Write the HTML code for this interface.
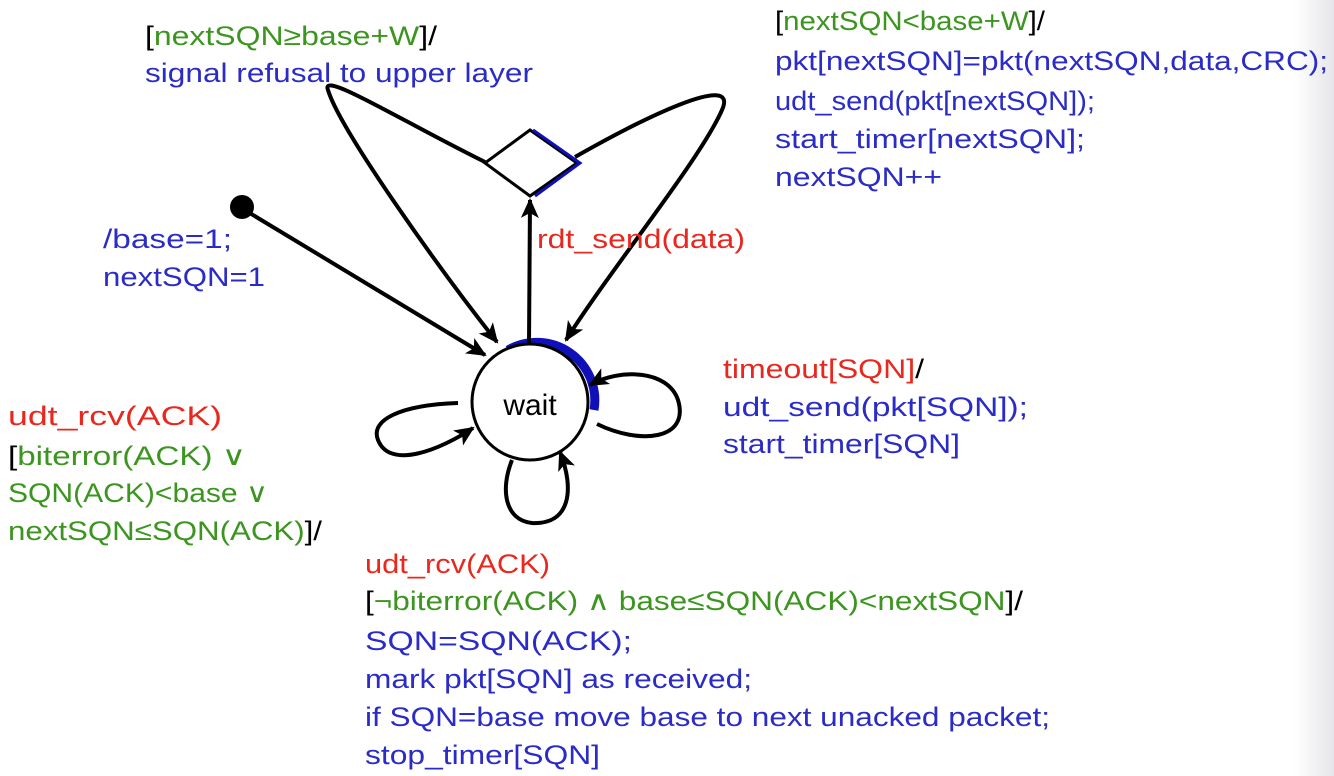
<!DOCTYPE html>
<html><head><meta charset="utf-8"><style>
html,body{margin:0;padding:0;background:#fff}
body{width:1334px;height:776px;overflow:hidden;position:relative}
.edge{position:absolute;right:0;top:0;width:40px;height:776px;background:linear-gradient(to right,rgba(235,235,240,0),#e6e6ea)}
svg{position:absolute;left:0;top:0}
text{font-family:"Liberation Sans",sans-serif;font-size:27px}
.r{fill:#e8281e}.g{fill:#3b951f}.b{fill:#2b2bc6}.k{fill:#000}
</style></head><body><div class="edge"></div>
<svg width="1334" height="776" viewBox="0 0 1334 776">
<defs>
<marker id="h" markerWidth="22" markerHeight="22" refX="18" refY="11" orient="auto" markerUnits="userSpaceOnUse"><path d="M0,2 L20,11 L0,20 L5,11 Z" fill="#000"/></marker></defs>
<g fill="none" stroke="#000" stroke-width="4">
<path d="M508,350 A58,58 0 0 1 594,410" stroke="#1010b8" stroke-width="9"/>
<circle cx="530" cy="402" r="58" fill="#fff" stroke-width="3"/>
<path d="M530,130 L485,163 L530,196 L577,163 Z" fill="#fff" stroke-width="3"/>
<path d="M533,130 L580,163 L535,196" stroke="#1010b8" stroke-width="3"/>
<path d="M529,344 L530,200" marker-end="url(#h)"/>
<path d="M248,212 L485,355" marker-end="url(#h)"/>
<path d="M485,162 C400,120 320,70 328,90 C340,130 440,270 497,342" marker-end="url(#h)"/>
<path d="M575,157 C640,120 740,70 722,110 C700,160 610,270 566,340" marker-end="url(#h)"/>
<path d="M597,424 C640,445 690,440 678,400 C668,370 620,368 590,385" marker-end="url(#h)"/>
<path d="M458,403 C400,405 370,420 378,440 C390,470 440,450 473,428" marker-end="url(#h)"/>
<path d="M512,460 C500,490 505,520 532,523 C570,525 575,490 560,452" marker-end="url(#h)"/>
</g>
<circle cx="242" cy="207" r="12" fill="#000"/>
<text x="530" y="415" text-anchor="middle" class="k" style="font-size:30px">wait</text>

<text x="145" y="45" textLength="292" lengthAdjust="spacingAndGlyphs"><tspan class="k">[</tspan><tspan class="g">nextSQN≥base+W</tspan><tspan class="k">]/</tspan></text>
<text x="145" y="82" textLength="388" lengthAdjust="spacingAndGlyphs" class="b">signal refusal to upper layer</text>

<text x="775" y="30" textLength="270" lengthAdjust="spacingAndGlyphs"><tspan class="k">[</tspan><tspan class="g">nextSQN&lt;base+W</tspan><tspan class="k">]/</tspan></text>
<text x="775" y="70" textLength="553" lengthAdjust="spacingAndGlyphs" class="b">pkt[nextSQN]=pkt(nextSQN,data,CRC);</text>
<text x="775" y="110" textLength="320" lengthAdjust="spacingAndGlyphs" class="b">udt_send(pkt[nextSQN]);</text>
<text x="775" y="148" textLength="310" lengthAdjust="spacingAndGlyphs" class="b">start_timer[nextSQN];</text>
<text x="775" y="186" textLength="167" lengthAdjust="spacingAndGlyphs" class="b">nextSQN++</text>

<text x="103" y="248" textLength="129" lengthAdjust="spacingAndGlyphs" class="b">/base=1;</text>
<text x="103" y="286" textLength="162" lengthAdjust="spacingAndGlyphs" class="b">nextSQN=1</text>
<text x="537" y="248" textLength="208" lengthAdjust="spacingAndGlyphs" class="r">rdt_send(data)</text>

<text x="723" y="378" textLength="201" lengthAdjust="spacingAndGlyphs"><tspan class="r">timeout[SQN]</tspan><tspan class="k">/</tspan></text>
<text x="723" y="416" textLength="305" lengthAdjust="spacingAndGlyphs" class="b">udt_send(pkt[SQN]);</text>
<text x="723" y="453" textLength="237" lengthAdjust="spacingAndGlyphs" class="b">start_timer[SQN]</text>

<text x="8" y="425" textLength="214" lengthAdjust="spacingAndGlyphs" class="r">udt_rcv(ACK)</text>
<text x="8" y="465" textLength="238" lengthAdjust="spacingAndGlyphs"><tspan class="k">[</tspan><tspan class="g">biterror(ACK) ∨</tspan></text>
<text x="8" y="502" textLength="260" lengthAdjust="spacingAndGlyphs" class="g">SQN(ACK)&lt;base ∨</text>
<text x="8" y="540" textLength="314" lengthAdjust="spacingAndGlyphs"><tspan class="g">nextSQN≤SQN(ACK)</tspan><tspan class="k">]/</tspan></text>

<text x="365" y="573" textLength="185" lengthAdjust="spacingAndGlyphs" class="r">udt_rcv(ACK)</text>
<text x="365" y="610" textLength="658" lengthAdjust="spacingAndGlyphs"><tspan class="k">[</tspan><tspan class="g">¬biterror(ACK) ∧ base≤SQN(ACK)&lt;nextSQN</tspan><tspan class="k">]/</tspan></text>
<text x="365" y="650" textLength="267" lengthAdjust="spacingAndGlyphs" class="b">SQN=SQN(ACK);</text>
<text x="365" y="688" textLength="387" lengthAdjust="spacingAndGlyphs" class="b">mark pkt[SQN] as received;</text>
<text x="365" y="726" textLength="685" lengthAdjust="spacingAndGlyphs" class="b">if SQN=base move base to next unacked packet;</text>
<text x="365" y="764" textLength="235" lengthAdjust="spacingAndGlyphs" class="b">stop_timer[SQN]</text>
</svg></body></html>
